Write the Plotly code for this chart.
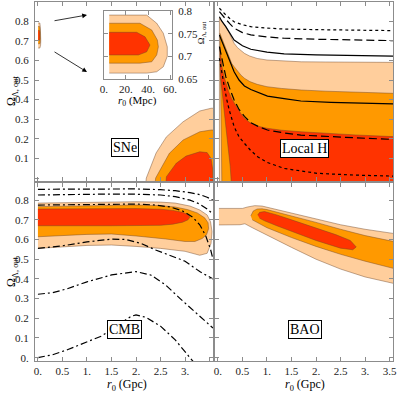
import plotly.graph_objects as go

# ---------------- data ----------------
PEACH = "rgb(255,206,156)"
ORANGE = "rgb(255,153,0)"
RED = "rgb(255,51,0)"
EDGE = "rgba(110,70,40,0.75)"

# SNe inset (r0 in Mpc)
sne_in_peach_r = [4.8, 38.8, 47.9, 53.9, 57.5, 57.5, 53.9, 47.9, 38.8, 4.8]
sne_in_peach_o = [0.791, 0.791, 0.773, 0.751, 0.721, 0.70, 0.677, 0.666, 0.663, 0.663]
sne_in_orange_r = [4.8, 32.7, 43.4, 48.5, 49.4, 47.9, 43.4, 32.7, 4.8]
sne_in_orange_o = [0.773, 0.773, 0.758, 0.736, 0.721, 0.703, 0.688, 0.685, 0.685]
sne_in_red_r = [4.8, 29.7, 37.3, 41.8, 38.8, 31.2, 4.8]
sne_in_red_o = [0.753, 0.753, 0.743, 0.725, 0.71, 0.703, 0.703]

# SNe large-r0 contours (Gpc)
sne_peach_r = [2.19, 2.21, 2.41, 2.62, 2.96, 3.30, 3.53, 3.70, 3.70]
sne_peach_o = [-0.05, 0.0, 0.128, 0.21, 0.287, 0.342, 0.356, 0.356, -0.05]
sne_orange_r = [2.38, 2.40, 2.68, 2.96, 3.30, 3.53, 3.70, 3.70]
sne_orange_o = [-0.05, 0.0, 0.126, 0.194, 0.236, 0.245, 0.245, -0.05]
sne_red_r = [2.60, 2.62, 2.82, 3.02, 3.30, 3.45, 3.53, 3.56, 3.57]
sne_red_o = [-0.05, 0.007, 0.075, 0.112, 0.134, 0.13, 0.10, 0.05, -0.05]

# Local H contours
lh_grid = [0.08, 0.12, 0.16, 0.22, 0.28, 0.33, 0.40, 0.47, 0.54, 0.65, 0.8, 1.0, 1.3, 1.7, 2.2, 2.8, 3.6]
lh_peach_top = [0.80, 0.787, 0.772, 0.745, 0.712, 0.687, 0.665, 0.648, 0.636, 0.622, 0.610, 0.602, 0.597, 0.593, 0.592, 0.591, 0.590]
lh_orange_top = [0.712, 0.682, 0.653, 0.615, 0.585, 0.568, 0.545, 0.525, 0.509, 0.492, 0.478, 0.466, 0.457, 0.449, 0.443, 0.438, 0.432]
lh_red_top = [0.57, 0.52, 0.483, 0.44, 0.405, 0.381, 0.355, 0.328, 0.305, 0.283, 0.265, 0.254, 0.244, 0.236, 0.228, 0.22, 0.211]
lh_peach_left_r = [0.03, 0.03]
lh_peach_left_o = [0.815, -0.05]
lh_orange_left_r = [0.04, 0.05, 0.07, 0.08]
lh_orange_left_o = [0.738, 0.50, 0.20, -0.05]
lh_red_left_r = [0.04, 0.042, 0.05, 0.07, 0.10, 0.13, 0.17, 0.21, 0.25, 0.28]
lh_red_left_o = [0.67, 0.60, 0.52, 0.45, 0.38, 0.32, 0.24, 0.15, 0.06, -0.05]

# Local H curves
lh_line_r = [0.03, 0.08, 0.16, 0.25, 0.33, 0.5, 0.67, 1.0, 1.35, 2.0, 2.8, 3.57]
lh_dot_up = [0.866, 0.852, 0.832, 0.812, 0.797, 0.782, 0.772, 0.765, 0.760, 0.757, 0.754, 0.752]
lh_dash_up = [0.849, 0.832, 0.810, 0.785, 0.764, 0.742, 0.730, 0.720, 0.713, 0.708, 0.704, 0.701]
lh_solid_up = [0.823, 0.800, 0.772, 0.735, 0.704, 0.675, 0.657, 0.642, 0.633, 0.628, 0.625, 0.622]
lh_low_r = [0.03, 0.08, 0.16, 0.25, 0.33, 0.43, 0.54, 0.67, 0.85, 1.01, 1.35, 1.69, 2.3, 3.0, 3.57]
lh_solid_low = [0.730, 0.70, 0.653, 0.595, 0.542, 0.50, 0.47, 0.452, 0.432, 0.418, 0.405, 0.393, 0.386, 0.381, 0.378]
lh_dash_low = [0.670, 0.61, 0.517, 0.45, 0.398, 0.35, 0.315, 0.282, 0.26, 0.245, 0.23, 0.219, 0.21, 0.203, 0.197]
lh_dot_low_r = [0.03, 0.08, 0.13, 0.18, 0.23, 0.33, 0.43, 0.54, 0.67, 0.81, 1.0, 1.35, 2.03, 2.8, 3.57]
lh_dot_low = [0.611, 0.53, 0.466, 0.40, 0.347, 0.262, 0.21, 0.177, 0.14, 0.109, 0.08, 0.049, 0.024, 0.015, 0.010]

# CMB contours
cmb_peach_r = [0, 0.5, 1.0, 1.5, 2.0, 2.5, 2.8, 3.1, 3.3, 3.45, 3.52, 3.55, 3.53, 3.45, 3.3, 3.0, 2.5, 2.0, 1.5, 1.0, 0.5, 0]
cmb_peach_o = [0.785, 0.787, 0.79, 0.792, 0.792, 0.79, 0.785, 0.77, 0.75, 0.725, 0.69, 0.64, 0.58, 0.53, 0.52, 0.54, 0.555, 0.565, 0.572, 0.57, 0.562, 0.555]
cmb_orange_r = [0, 0.5, 1.0, 1.5, 2.0, 2.5, 2.8, 3.05, 3.25, 3.4, 3.47, 3.48, 3.44, 3.35, 3.2, 3.0, 2.6, 2.0, 1.5, 1.0, 0.5, 0]
cmb_orange_o = [0.767, 0.769, 0.772, 0.774, 0.775, 0.772, 0.765, 0.752, 0.735, 0.71, 0.685, 0.655, 0.625, 0.605, 0.59, 0.59, 0.603, 0.618, 0.628, 0.626, 0.62, 0.614]
cmb_red_r = [0, 0.5, 1.0, 1.5, 2.0, 2.5, 2.75, 2.95, 3.05, 3.1, 3.06, 2.95, 2.75, 2.5, 2.0, 1.5, 1.0, 0.5, 0]
cmb_red_o = [0.755, 0.756, 0.757, 0.757, 0.757, 0.754, 0.748, 0.738, 0.727, 0.714, 0.70, 0.688, 0.678, 0.672, 0.67, 0.67, 0.67, 0.67, 0.67]

# CMB dot-dashed curves
cmb_up_r = [0, 0.5, 1, 1.5, 2, 2.5, 2.8, 3.1, 3.3, 3.45, 3.57]
cmb_u1 = [0.855, 0.856, 0.857, 0.858, 0.857, 0.853, 0.848, 0.838, 0.828, 0.815, 0.80]
cmb_u2 = [0.826, 0.828, 0.83, 0.831, 0.83, 0.826, 0.818, 0.80, 0.78, 0.755, 0.73]
cmb_u3_r = [0, 0.5, 1, 1.5, 2, 2.4, 2.7, 2.95, 3.15, 3.3, 3.42, 3.52, 3.57]
cmb_u3 = [0.775, 0.777, 0.779, 0.78, 0.78, 0.775, 0.765, 0.745, 0.715, 0.675, 0.62, 0.55, 0.50]
cmb_l1_r = [0, 0.5, 1.0, 1.5, 1.8, 2.1, 2.4, 2.7, 3.0, 3.3, 3.57]
cmb_l1 = [0.555, 0.568, 0.588, 0.602, 0.60, 0.58, 0.547, 0.52, 0.49, 0.437, 0.40]
cmb_l2_r = [0, 0.3, 0.6, 1.0, 1.5, 2.0, 2.3, 2.6, 2.9, 3.3, 3.57]
cmb_l2 = [0.322, 0.33, 0.35, 0.385, 0.42, 0.437, 0.42, 0.37, 0.30, 0.208, 0.15]
cmb_l3_r = [0, 0.3, 0.6, 1.0, 1.3, 1.6, 1.9, 2.0, 2.2, 2.5, 2.8, 3.1, 3.2]
cmb_l3 = [0.0, 0.015, 0.04, 0.08, 0.11, 0.16, 0.21, 0.217, 0.205, 0.16, 0.09, 0.0, -0.03]

# BAO contours
bao_peach_r = [0.02, 0.3, 0.5, 0.6, 0.75, 0.9, 1.2, 1.5, 2.0, 2.5, 3.0, 3.6, 3.6, 3.0, 2.5, 2.0, 1.5, 1.0, 0.7, 0.55, 0.45, 0.02]
bao_peach_o = [0.758, 0.758, 0.758, 0.765, 0.772, 0.77, 0.752, 0.735, 0.705, 0.675, 0.652, 0.63, 0.376, 0.41, 0.45, 0.50, 0.56, 0.62, 0.66, 0.68, 0.675, 0.674]
bao_orange_r = [0.67, 0.72, 0.8, 0.9, 1.0, 1.5, 2.0, 2.5, 3.0, 3.6, 3.6, 3.0, 2.5, 2.0, 1.5, 1.0, 0.8, 0.7]
bao_orange_o = [0.72, 0.745, 0.755, 0.756, 0.752, 0.72, 0.687, 0.652, 0.62, 0.589, 0.452, 0.49, 0.525, 0.565, 0.61, 0.66, 0.685, 0.70]
bao_red_r = [0.81, 0.85, 0.95, 1.2, 1.5, 2.0, 2.4, 2.7, 2.82, 2.75, 2.5, 2.0, 1.5, 1.2, 0.95, 0.85]
bao_red_o = [0.724, 0.738, 0.742, 0.725, 0.70, 0.66, 0.625, 0.595, 0.562, 0.548, 0.556, 0.595, 0.64, 0.67, 0.695, 0.708]

# ticks
r_ticks = [0, 0.5, 1, 1.5, 2, 2.5, 3, 3.5]
r_labels_cmb = ["0.", "0.5", "1.", "1.5", "2.", "2.5", "3.", " "]
r_labels_bao = ["0.", "0.5", "1.", "1.5", "2.", "2.5", "3.", "3.5"]
o_ticks = [0, 0.1, 0.2, 0.3, 0.4, 0.5, 0.6, 0.7, 0.8]
o_labels_top = [" ", "0.1", "0.2", "0.3", "0.4", "0.5", "0.6", "0.7", "0.8"]
o_labels_bot = ["0.", "0.1", "0.2", "0.3", "0.4", "0.5", "0.6", "0.7", "0.8"]
inset_x_ticks = [0, 20, 40, 60]
inset_x_labels = ["0.", "20.", "40.", "60."]
inset_y_ticks = [0.65, 0.7, 0.75, 0.8]
inset_y_labels = ["0.65", "0.7", "0.75", "0.8"]

# ---------------- figure ----------------
fig = go.Figure()


def poly(xs, ys, color, ax):
    fig.add_trace(go.Scatter(x=xs, y=ys, fill="toself", fillcolor=color, mode="lines",
                             line=dict(color=EDGE, width=0.6), xaxis="x" + ax, yaxis="y" + ax,
                             hoverinfo="skip", showlegend=False))


def curve(xs, ys, dash, ax, width=1.2):
    fig.add_trace(go.Scatter(x=xs, y=ys, mode="lines", line=dict(color="black", width=width, dash=dash),
                             xaxis="x" + ax, yaxis="y" + ax, hoverinfo="skip", showlegend=False))


# top-left SNe (main)
to_gpc = lambda v: [a / 1000.0 for a in v]
poly(to_gpc(sne_in_peach_r), sne_in_peach_o, PEACH, "")
poly(to_gpc(sne_in_orange_r), sne_in_orange_o, ORANGE, "")
poly(to_gpc(sne_in_red_r), sne_in_red_o, RED, "")
poly(sne_peach_r, sne_peach_o, PEACH, "")
poly(sne_orange_r, sne_orange_o, ORANGE, "")
poly(sne_red_r, sne_red_o, RED, "")

# inset
poly(sne_in_peach_r, sne_in_peach_o, PEACH, "5")
poly(sne_in_orange_r, sne_in_orange_o, ORANGE, "5")
poly(sne_in_red_r, sne_in_red_o, RED, "5")

# Local H
for left_r, left_o, top, col in [(lh_peach_left_r, lh_peach_left_o, lh_peach_top, PEACH),
                                 (lh_orange_left_r, lh_orange_left_o, lh_orange_top, ORANGE),
                                 (lh_red_left_r, lh_red_left_o, lh_red_top, RED)]:
    xs = left_r[:1] + lh_grid + [3.6] + left_r[::-1]
    ys = left_o[:1] + top + [-0.05] + left_o[::-1]
    poly(xs, ys, col, "2")

curve(lh_line_r, lh_dot_up, "dot", "2")
curve(lh_line_r, lh_dash_up, "8px,4px", "2")
curve(lh_line_r, lh_solid_up, "solid", "2")
curve(lh_low_r, lh_solid_low, "solid", "2")
curve(lh_low_r, lh_dash_low, "8px,4px", "2")
curve(lh_dot_low_r, lh_dot_low, "dot", "2")

# CMB
poly(cmb_peach_r, cmb_peach_o, PEACH, "3")
poly(cmb_orange_r, cmb_orange_o, ORANGE, "3")
poly(cmb_red_r, cmb_red_o, RED, "3")
DD = "7px,3px,2px,3px"
curve(cmb_up_r, cmb_u1, DD, "3")
curve(cmb_up_r, cmb_u2, DD, "3")
curve(cmb_u3_r, cmb_u3, DD, "3")
curve(cmb_l1_r, cmb_l1, DD, "3")
curve(cmb_l2_r, cmb_l2, DD, "3")
curve(cmb_l3_r, cmb_l3, DD, "3")

# BAO
poly(bao_peach_r, bao_peach_o, PEACH, "4")
poly(bao_orange_r, bao_orange_o, ORANGE, "4")
poly(bao_red_r, bao_red_o, RED, "4")

# ---------------- layout ----------------
FONT = "Liberation Serif, Times New Roman, serif"
XR = [-0.06, 3.57]
YR_TOP = [-0.015, 0.898]
YR_BOT = [-0.017, 0.887]
XL, XRd = [0, 0.4972], [0.5028, 1]
YT, YB = [0.5014, 1], [0, 0.4958]


def axis(domain, rng, anchor, tickvals, ticktext=None, side=None):
    d = dict(domain=domain, range=rng, anchor=anchor, showline=True, linecolor="#8c8c8c", linewidth=1,
             mirror="ticks", ticks="inside", ticklen=4, tickwidth=1, tickcolor="#8c8c8c",
             tickvals=tickvals, showgrid=False, zeroline=False, fixedrange=True, automargin=False,
             tickfont=dict(family=FONT, size=11, color="#222"))
    if ticktext is None:
        d["showticklabels"] = False
    else:
        d["ticktext"] = ticktext
    if side:
        d["side"] = side
    return d


layout = dict(
    template="none",
    width=399, height=393, margin=dict(l=35, r=6, t=2, b=32, autoexpand=False),
    paper_bgcolor="white", plot_bgcolor="white", showlegend=False,
    font=dict(family=FONT, size=11, color="#222"),
    xaxis=axis(XL, XR, "y", r_ticks),
    yaxis=axis(YT, YR_TOP, "x", o_ticks, o_labels_top),
    xaxis2=axis(XRd, XR, "y2", r_ticks),
    yaxis2=axis(YT, YR_TOP, "x2", o_ticks),
    xaxis3=axis(XL, XR, "y3", r_ticks, r_labels_cmb),
    yaxis3=axis(YB, YR_BOT, "x3", o_ticks, o_labels_bot),
    xaxis4=axis(XRd, XR, "y4", r_ticks, r_labels_bao),
    yaxis4=axis(YB, YR_BOT, "x4", o_ticks),
    xaxis5=axis([0.1927, 0.3827], [0, 61.8], "y5", inset_x_ticks, inset_x_labels),
    yaxis5=axis([0.7855, 0.9749], [0.65, 0.8], "x5", inset_y_ticks, inset_y_labels, side="right"),
)
for k in ["yaxis", "yaxis3", "yaxis5"]:
    layout[k]["ticklabelstandoff"] = 3
fig.update_layout(**layout)

ylab = "Ω<sub>Λ, out</sub>"
xlab = "<i>r</i><sub>0</sub> (Gpc)"
ann = []


def text(t, x, y, size, angle=0, boxed=False):
    d = dict(text=t, x=x, y=y, xref="paper", yref="paper", showarrow=False, textangle=angle,
             xanchor="center", yanchor="middle", font=dict(family=FONT, size=size, color="black"))
    if boxed:
        d.update(bgcolor="white", bordercolor="black", borderwidth=1, borderpad=1)
    ann.append(d)


text("SNe", 0.25, 0.5947, 14, boxed=True)
text("Local H", 0.7514, 0.5933, 14, boxed=True)
text("CMB", 0.25, 0.0877, 14, boxed=True)
text("BAO", 0.7528, 0.0891, 14, boxed=True)

for yy in [0.752, 0.248]:
    text(ylab, -0.064, yy, 12, angle=-90)
text(ylab, 0.4637, 0.913, 9, angle=-90)
for xx in [0.257, 0.754]:
    text(xlab, xx, -0.068, 12)
text("<i>r</i><sub>0</sub> (Mpc)", 0.285, 0.7242, 11)

# arrows from the tiny SNe region to the inset
for hx, hy, axp, ayp in [(0.1453, 0.9638, -34, 6), (0.1453, 0.805, -34, -21)]:
    ann.append(dict(x=hx, y=hy, xref="paper", yref="paper", ax=axp, ay=ayp,
                    showarrow=True, arrowhead=2, arrowsize=1.2, arrowwidth=0.8, arrowcolor="black", text=""))

fig.update_layout(annotations=ann)
fig.write_html("out.html", config={"displayModeBar": False},
               post_script="document.body.style.margin='0';")
